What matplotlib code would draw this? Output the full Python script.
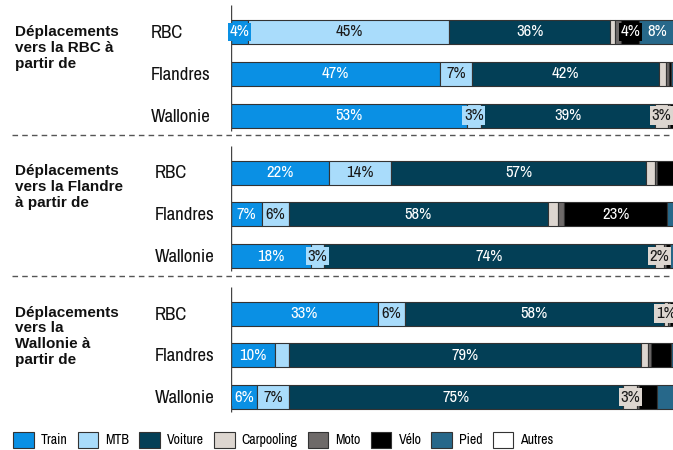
import matplotlib
matplotlib.use("Agg")
import matplotlib.pyplot as plt
from matplotlib import font_manager
from matplotlib.patches import Patch
from matplotlib.lines import Line2D

# ---- data -------------------------------------------------------------
modes = ["Train", "MTB", "Voiture", "Carpooling", "Moto", "Vélo", "Pied", "Autres"]
origins = ["RBC", "Flandres", "Wallonie"]
group_titles = [
    "Déplacements\nvers la RBC à\npartir de",
    "Déplacements\nvers la Flandre\nà partir de",
    "Déplacements\nvers la\nWallonie à\npartir de",
]

# one value per bar: (dest RBC: RBC, Flandres, Wallonie), (dest Flandre: ...), (dest Wallonie: ...)
train      = [4, 47, 53, 22, 7, 18, 33, 10, 6]
mtb        = [45, 7, 3, 14, 6, 3, 6, 3, 7]
voiture    = [36, 42, 39, 57, 58, 74, 58, 79, 75]
carpooling = [1, 1.5, 3, 2, 2.3, 2, 1, 1.6, 3]
moto       = [1.5, 0.8, 0.5, 0.5, 1.5, 0.5, 0.4, 0.6, 0.5]
velo       = [4, 0.4, 0.5, 4, 23, 1, 0.6, 4.5, 4]
pied       = [8, 0.3, 0.5, 0.3, 2, 1, 0.5, 0.3, 4.5]
autres     = [0.5, 1.0, 0.5, 0.2, 0.2, 0.5, 0.5, 1.0, 0]

# which segments carry a percentage label
train_lab      = [1, 1, 1, 1, 1, 1, 1, 1, 1]
mtb_lab        = [1, 1, 1, 1, 1, 1, 1, 0, 1]
voiture_lab    = [1, 1, 1, 1, 1, 1, 1, 1, 1]
carpooling_lab = [0, 0, 1, 0, 0, 1, 1, 0, 1]
moto_lab       = [0] * 9
velo_lab       = [1, 0, 0, 0, 1, 0, 0, 0, 0]
pied_lab       = [1, 0, 0, 0, 0, 0, 0, 0, 0]
autres_lab     = [0] * 9

series = [train, mtb, voiture, carpooling, moto, velo, pied, autres]
labelled = [train_lab, mtb_lab, voiture_lab, carpooling_lab, moto_lab,
            velo_lab, pied_lab, autres_lab]

# ---- style ------------------------------------------------------------
colors = ["#0a90e4", "#a9dcfb", "#033f56", "#ddd6d0", "#6e6a69",
          "#000000", "#27688a", "#ffffff"]
text_colors = ["white", "#1a1a1a", "white", "#1a1a1a", "white",
               "white", "white", "#1a1a1a"]

installed = {f.name for f in font_manager.fontManager.ttflist}
narrow = next((n for n in ["Liberation Sans Narrow", "Archivo Narrow", "Roboto Condensed",
                           "Liberation Sans"] if n in installed), "DejaVu Sans")
regular = "Liberation Sans"
NARROW = [narrow, "DejaVu Sans"]

W, H = 673, 450
fig = plt.figure(figsize=(W / 100, H / 100), dpi=100)

# overlay in pixel coordinates for titles, separators and legend
ov = fig.add_axes([0, 0, 1, 1])
ov.set_xlim(0, W)
ov.set_ylim(H, 0)
ov.axis("off")

# bar axes: x in percent, y in pixel rows
x0 = 230.5
ax = fig.add_axes([x0 / W, 0, (W - x0) / W, 1])
ax.set_xlim(0, 99.1)
ax.set_ylim(H, 0)
ax.axis("off")

group_first = [32, 172.5, 313.5]
step = 41.8
bar_h = 24
ypos = [g + i * step for g in group_first for i in range(3)]

left = [0.0] * len(ypos)
handles = []
for k, (vals, lab) in enumerate(zip(series, labelled)):
    ax.barh(ypos, vals, left=left, height=bar_h, color=colors[k],
            edgecolor="#333333", linewidth=0.8, zorder=2)
    handles.append(Patch(facecolor=colors[k], edgecolor="#333333", linewidth=0.8))
    for j, (v, show) in enumerate(zip(vals, lab)):
        if show:
            ax.text(left[j] + v / 2, ypos[j], f"{v:.0f}%", ha="center", va="center",
                    color=text_colors[k], fontsize=12, family=NARROW,
                    zorder=4,
                    bbox=dict(boxstyle="square,pad=0.1", facecolor=colors[k],
                              edgecolor="none"))
    left = [l + v for l, v in zip(left, vals)]

# vertical axis line of each group
for g in group_first:
    ax.plot([0, 0], [g - 27, g + 2 * step + 15], color="#444444", lw=1.0,
            zorder=3, solid_capstyle="butt")

# origin labels
label_x = [151, 155, 155]
for gi, g in enumerate(group_first):
    for i, name in enumerate(origins):
        ov.text(label_x[gi], g + i * step + 1, name, ha="left", va="center",
                fontsize=13.5, family=NARROW, color="#111111")

# group titles
title_top = [25, 164.5, 305.5]
for t, y in zip(group_titles, title_top):
    ov.text(15, y, t, ha="left", va="top", fontsize=11, fontweight="bold",
            family=[regular, "DejaVu Sans"], linespacing=1.17, color="#111111")

# dashed separators between groups
for y in [135, 276]:
    ov.add_line(Line2D([12, W], [y, y], color="#555555", lw=1.0,
                       linestyle=(0, (4, 3))))

# legend
ov.legend(handles, modes, loc="upper left",
          bbox_to_anchor=(13 / W, 1 - 432 / H), bbox_transform=fig.transFigure,
          ncol=8, frameon=False, borderpad=0, borderaxespad=0,
          handlelength=1.5, handleheight=1.35, handletextpad=0.5,
          columnspacing=0.72,
          prop=font_manager.FontProperties(family=NARROW, size=10))

fig.savefig("out.png", dpi=100)
